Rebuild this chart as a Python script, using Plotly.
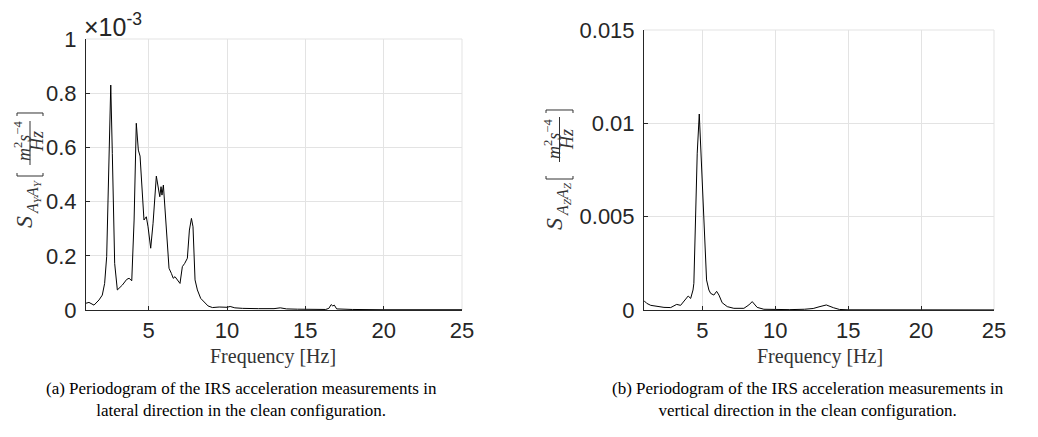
import numpy as np
import plotly.graph_objects as go

W, H = 1038, 437

# ---------------- data ----------------
# (a) lateral PSD, values in 1e-3 m^2 s^-4 / Hz
freq_lat = [1.0, 1.19, 1.51, 1.83, 2.04, 2.19, 2.32, 2.43, 2.58, 2.68, 2.83, 3.0,
            3.32, 3.6, 3.75, 3.92, 4.07, 4.21, 4.34, 4.45, 4.6, 4.7, 4.85, 4.96,
            5.13, 5.28, 5.49, 5.6, 5.71, 5.79, 5.85, 5.94, 6.04, 6.19, 6.3, 6.45,
            6.57, 6.68, 6.83, 7.0, 7.15, 7.3, 7.47, 7.6, 7.73, 7.83, 7.96, 8.11,
            8.32, 8.54, 8.79, 9.07, 9.5, 10.0, 10.2, 10.5, 11.0, 12.0, 13.0, 13.4,
            13.8, 14.5, 15.5, 16.3, 16.5, 16.65, 16.75, 16.85, 17.0, 18.0, 20.0,
            22.0, 25.0]
psd_lat_e3 = [0.025, 0.028, 0.018, 0.037, 0.055, 0.098, 0.197, 0.455, 0.83, 0.578,
              0.172, 0.074, 0.092, 0.113, 0.117, 0.108, 0.332, 0.689, 0.59, 0.568,
              0.418, 0.332, 0.344, 0.307, 0.228, 0.32, 0.494, 0.461, 0.418, 0.455,
              0.424, 0.461, 0.369, 0.246, 0.154, 0.135, 0.117, 0.123, 0.111, 0.098,
              0.16, 0.172, 0.191, 0.295, 0.338, 0.307, 0.111, 0.074, 0.043, 0.031,
              0.015, 0.009, 0.011, 0.010, 0.013, 0.008, 0.006, 0.005, 0.005, 0.008,
              0.004, 0.003, 0.002, 0.002, 0.006, 0.020, 0.015, 0.018, 0.004, 0.002,
              0.001, 0.001, 0.001]

# (b) vertical PSD, values in 1e-3 m^2 s^-4 / Hz
freq_vert = [1.0, 1.18, 1.46, 1.91, 2.37, 2.83, 3.24, 3.51, 3.86, 4.03, 4.2, 4.36,
             4.42, 4.54, 4.65, 4.79, 4.92, 5.06, 5.18, 5.29, 5.45, 5.57, 5.79, 5.98,
             6.14, 6.36, 6.71, 7.16, 7.85, 8.19, 8.42, 8.76, 9.22, 10.0, 11.0, 12.0,
             12.6, 13.0, 13.5, 14.0, 14.4, 15.0, 16.0, 17.0, 18.0, 20.0, 25.0]
psd_vert_e3 = [0.5, 0.36, 0.25, 0.18, 0.14, 0.13, 0.30, 0.25, 0.57, 0.75, 0.62, 1.07,
               1.43, 5.36, 8.4, 10.5, 8.04, 5.36, 3.04, 1.61, 1.07, 0.89, 0.80, 1.0,
               0.8, 0.39, 0.18, 0.09, 0.09, 0.27, 0.45, 0.14, 0.04, 0.02, 0.02, 0.04,
               0.08, 0.17, 0.27, 0.12, 0.03, 0.01, 0.01, 0.02, 0.01, 0.005, 0.005]

x_ticks = [5, 10, 15, 20, 25]
y_ticks_lat = [0, 0.0002, 0.0004, 0.0006, 0.0008, 0.001]
y_ticktext_lat = ["0", "0.2", "0.4", "0.6", "0.8", "1"]
y_ticks_vert = [0, 0.005, 0.01, 0.015]
y_ticktext_vert = ["0", "0.005", "0.01", "0.015"]

caption_a = "(a) Periodogram of the IRS acceleration measurements in<br>lateral direction in the clean configuration."
caption_b = "(b) Periodogram of the IRS acceleration measurements in<br>vertical direction in the clean configuration."

# ---------------- helpers ----------------
def px(x):
    return x / W

def py(y):
    return 1 - y / H

AX = "#262626"
GRID = "#e3e3e3"
SANS = "Liberation Sans, Arial, sans-serif"
TICKFONT = dict(family=SANS, size=22, color=AX)
SERIF = "Liberation Serif, Times New Roman, serif"

fig = go.Figure()
fig.add_trace(go.Scatter(x=freq_lat, y=np.array(psd_lat_e3) * 1e-3, mode="lines",
                         line=dict(color="black", width=1), xaxis="x", yaxis="y",
                         showlegend=False))
fig.add_trace(go.Scatter(x=freq_vert, y=np.array(psd_vert_e3) * 1e-3, mode="lines",
                         line=dict(color="black", width=1), xaxis="x2", yaxis="y2",
                         showlegend=False))

# plot areas (pixel boxes)
L = dict(x0=86, x1=462, y0=39, y1=310)
R = dict(x0=644, x1=994, y0=30, y1=310)

common_x = dict(range=[1, 25], tickvals=x_ticks, ticks="inside", ticklen=4,
                tickcolor=AX, showline=True, linecolor=AX, linewidth=1,
                showgrid=True, gridcolor=GRID, gridwidth=1, zeroline=False,
                tickfont=TICKFONT, ticklabelstandoff=1, automargin=False)
common_y = dict(ticks="inside", ticklen=4, tickcolor=AX, showline=True, linecolor=AX,
                linewidth=1, showgrid=True, gridcolor=GRID, gridwidth=1, zeroline=False,
                tickfont=TICKFONT, ticklabelstandoff=4, automargin=False)

fig.update_layout(
    width=W, height=H, margin=dict(l=0, r=0, t=0, b=0),
    paper_bgcolor="white", plot_bgcolor="white",
    xaxis=dict(domain=[px(L["x0"]), px(L["x1"])], anchor="y", **common_x),
    yaxis=dict(domain=[py(L["y1"]), py(L["y0"])], anchor="x", range=[0, 0.001],
               tickvals=y_ticks_lat, ticktext=y_ticktext_lat, **common_y),
    xaxis2=dict(domain=[px(R["x0"]), px(R["x1"])], anchor="y2", **common_x),
    yaxis2=dict(domain=[py(R["y1"]), py(R["y0"])], anchor="x2", range=[0, 0.015],
                tickvals=y_ticks_vert, ticktext=y_ticktext_vert, **common_y),
)

shapes = []
# top / right grid borders
for b in (L, R):
    shapes.append(dict(type="line", xref="paper", yref="paper", x0=px(b["x0"]), x1=px(b["x1"]),
                       y0=py(b["y0"]), y1=py(b["y0"]), line=dict(color=GRID, width=1), layer="below"))
    shapes.append(dict(type="line", xref="paper", yref="paper", x0=px(b["x1"]), x1=px(b["x1"]),
                       y0=py(b["y0"]), y1=py(b["y1"]), line=dict(color=GRID, width=1), layer="below"))

annotations = []
LAB = "#333333"

def rot_text(text, cx, cy, size):
    annotations.append(dict(text=text, xref="paper", yref="paper", x=px(cx), y=py(cy),
                            xanchor="center", yanchor="middle", textangle=-90, showarrow=False,
                            font=dict(family=SERIF, size=size, color=LAB)))

def ylabel(sub, s_c, sub_c, num_c, den_c, line_x, line_y0, line_y1, lb_y, rb_y, bx0, bx1):
    rot_text("<i>S</i>", s_c[0], s_c[1], 24)
    rot_text("<i>A</i><sub><i>%s</i></sub><i>A</i><sub><i>%s</i></sub>" % (sub, sub),
             sub_c[0], sub_c[1], 16)
    rot_text("<i>m</i><sup>2</sup><i>s</i><sup>\u22124</sup>", num_c[0], num_c[1], 18)
    rot_text("<i>Hz</i>", den_c[0], den_c[1], 18)
    shapes.append(dict(type="line", xref="paper", yref="paper", x0=px(line_x), x1=px(line_x),
                       y0=py(line_y0), y1=py(line_y1), line=dict(color=LAB, width=1)))
    a = 3
    shapes.append(dict(type="path", xref="paper", yref="paper",
                       path="M %f %f L %f %f L %f %f L %f %f" % (
                           px(bx0), py(lb_y - a), px(bx0), py(lb_y), px(bx1), py(lb_y), px(bx1), py(lb_y - a)),
                       line=dict(color=LAB, width=1)))
    shapes.append(dict(type="path", xref="paper", yref="paper",
                       path="M %f %f L %f %f L %f %f L %f %f" % (
                           px(bx0), py(rb_y + a), px(bx0), py(rb_y), px(bx1), py(rb_y), px(bx1), py(rb_y + a)),
                       line=dict(color=LAB, width=1)))

ylabel("Y", (24, 222), (33, 197), (23, 141), (37, 142), 30, 121, 165, 176, 113, 17, 43)
ylabel("Z", (554, 224), (563, 199), (552, 139), (567, 140), 559.5, 117, 162, 179, 110, 546, 573)

# x10^-3 multiplier
annotations.append(dict(text="\u00d710<sup>-3</sup>", xref="paper", yref="paper",
                        x=px(82), y=py(25), xanchor="left", yanchor="middle", showarrow=False,
                        font=dict(family=SANS, size=25, color=AX)))

# x axis titles
for cx in (273, 820):
    annotations.append(dict(text="Frequency [Hz]", xref="paper", yref="paper", x=px(cx), y=py(356),
                            xanchor="center", yanchor="middle", showarrow=False,
                            font=dict(family=SERIF, size=20, color=LAB)))

# captions
for cx, txt in ((241, caption_a), (808, caption_b)):
    annotations.append(dict(text=txt, xref="paper", yref="paper", x=px(cx), y=py(399),
                            xanchor="center", yanchor="middle", showarrow=False, align="center",
                            font=dict(family=SERIF, size=17, color="black")))

fig.update_layout(shapes=shapes, annotations=annotations)
fig.write_html("out.html")
